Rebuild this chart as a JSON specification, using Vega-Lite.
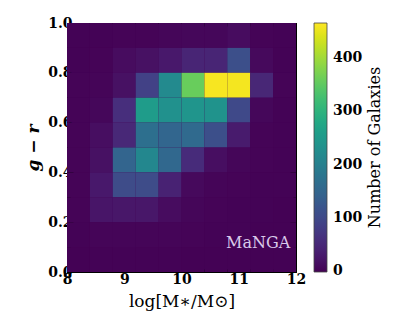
{
  "$schema": "https://vega.github.io/schema/vega-lite/v6.json",
  "autosize": "none",
  "padding": {"left": 67, "top": 23, "right": 103, "bottom": 60},
  "width": 229,
  "height": 249,
  "background": "white",
  "config": {
    "view": {"stroke": "black", "strokeWidth": 1, "fill": "#440154"},
    "axis": {"domainColor": "black", "tickColor": "black", "labelFont": "DejaVu Serif", "labelFontWeight": "bold", "labelFontSize": 14, "labelColor": "black", "titleFont": "DejaVu Serif", "titleColor": "black", "titleFontWeight": "normal", "grid": false},
    "legend": {"labelFont": "DejaVu Serif", "labelFontWeight": "bold", "labelFontSize": 14, "labelColor": "black", "titleFont": "DejaVu Serif", "titleFontWeight": "normal", "titleFontSize": 16, "titleColor": "black"}
  },
  "datasets": {
    "cells": [
      {"m0": 8.0, "m1": 8.4, "c0": 0.9, "c1": 1.0, "n": 1}, {"m0": 8.4, "m1": 8.8, "c0": 0.9, "c1": 1.0, "n": 1}, {"m0": 8.8, "m1": 9.2, "c0": 0.9, "c1": 1.0, "n": 2}, {"m0": 9.2, "m1": 9.6, "c0": 0.9, "c1": 1.0, "n": 3}, {"m0": 9.6, "m1": 10.0, "c0": 0.9, "c1": 1.0, "n": 5}, {"m0": 10.0, "m1": 10.4, "c0": 0.9, "c1": 1.0, "n": 6}, {"m0": 10.4, "m1": 10.8, "c0": 0.9, "c1": 1.0, "n": 6}, {"m0": 10.8, "m1": 11.2, "c0": 0.9, "c1": 1.0, "n": 12}, {"m0": 11.2, "m1": 11.6, "c0": 0.9, "c1": 1.0, "n": 3}, {"m0": 11.6, "m1": 12.0, "c0": 0.9, "c1": 1.0, "n": 1},
      {"m0": 8.0, "m1": 8.4, "c0": 0.8, "c1": 0.9, "n": 1}, {"m0": 8.4, "m1": 8.8, "c0": 0.8, "c1": 0.9, "n": 2}, {"m0": 8.8, "m1": 9.2, "c0": 0.8, "c1": 0.9, "n": 12}, {"m0": 9.2, "m1": 9.6, "c0": 0.8, "c1": 0.9, "n": 18}, {"m0": 9.6, "m1": 10.0, "c0": 0.8, "c1": 0.9, "n": 28}, {"m0": 10.0, "m1": 10.4, "c0": 0.8, "c1": 0.9, "n": 45}, {"m0": 10.4, "m1": 10.8, "c0": 0.8, "c1": 0.9, "n": 45}, {"m0": 10.8, "m1": 11.2, "c0": 0.8, "c1": 0.9, "n": 110}, {"m0": 11.2, "m1": 11.6, "c0": 0.8, "c1": 0.9, "n": 8}, {"m0": 11.6, "m1": 12.0, "c0": 0.8, "c1": 0.9, "n": 1},
      {"m0": 8.0, "m1": 8.4, "c0": 0.7, "c1": 0.8, "n": 2}, {"m0": 8.4, "m1": 8.8, "c0": 0.7, "c1": 0.8, "n": 4}, {"m0": 8.8, "m1": 9.2, "c0": 0.7, "c1": 0.8, "n": 18}, {"m0": 9.2, "m1": 9.6, "c0": 0.7, "c1": 0.8, "n": 88}, {"m0": 9.6, "m1": 10.0, "c0": 0.7, "c1": 0.8, "n": 220}, {"m0": 10.0, "m1": 10.4, "c0": 0.7, "c1": 0.8, "n": 358}, {"m0": 10.4, "m1": 10.8, "c0": 0.7, "c1": 0.8, "n": 460}, {"m0": 10.8, "m1": 11.2, "c0": 0.7, "c1": 0.8, "n": 458}, {"m0": 11.2, "m1": 11.6, "c0": 0.7, "c1": 0.8, "n": 48}, {"m0": 11.6, "m1": 12.0, "c0": 0.7, "c1": 0.8, "n": 2},
      {"m0": 8.0, "m1": 8.4, "c0": 0.6, "c1": 0.7, "n": 2}, {"m0": 8.4, "m1": 8.8, "c0": 0.6, "c1": 0.7, "n": 6}, {"m0": 8.8, "m1": 9.2, "c0": 0.6, "c1": 0.7, "n": 60}, {"m0": 9.2, "m1": 9.6, "c0": 0.6, "c1": 0.7, "n": 255}, {"m0": 9.6, "m1": 10.0, "c0": 0.6, "c1": 0.7, "n": 232}, {"m0": 10.0, "m1": 10.4, "c0": 0.6, "c1": 0.7, "n": 240}, {"m0": 10.4, "m1": 10.8, "c0": 0.6, "c1": 0.7, "n": 236}, {"m0": 10.8, "m1": 11.2, "c0": 0.6, "c1": 0.7, "n": 100}, {"m0": 11.2, "m1": 11.6, "c0": 0.6, "c1": 0.7, "n": 6}, {"m0": 11.6, "m1": 12.0, "c0": 0.6, "c1": 0.7, "n": 1},
      {"m0": 8.0, "m1": 8.4, "c0": 0.5, "c1": 0.6, "n": 3}, {"m0": 8.4, "m1": 8.8, "c0": 0.5, "c1": 0.6, "n": 14}, {"m0": 8.8, "m1": 9.2, "c0": 0.5, "c1": 0.6, "n": 50}, {"m0": 9.2, "m1": 9.6, "c0": 0.5, "c1": 0.6, "n": 168}, {"m0": 9.6, "m1": 10.0, "c0": 0.5, "c1": 0.6, "n": 150}, {"m0": 10.0, "m1": 10.4, "c0": 0.5, "c1": 0.6, "n": 158}, {"m0": 10.4, "m1": 10.8, "c0": 0.5, "c1": 0.6, "n": 110}, {"m0": 10.8, "m1": 11.2, "c0": 0.5, "c1": 0.6, "n": 32}, {"m0": 11.2, "m1": 11.6, "c0": 0.5, "c1": 0.6, "n": 3}, {"m0": 11.6, "m1": 12.0, "c0": 0.5, "c1": 0.6, "n": 1},
      {"m0": 8.0, "m1": 8.4, "c0": 0.4, "c1": 0.5, "n": 3}, {"m0": 8.4, "m1": 8.8, "c0": 0.4, "c1": 0.5, "n": 18}, {"m0": 8.8, "m1": 9.2, "c0": 0.4, "c1": 0.5, "n": 148}, {"m0": 9.2, "m1": 9.6, "c0": 0.4, "c1": 0.5, "n": 215}, {"m0": 9.6, "m1": 10.0, "c0": 0.4, "c1": 0.5, "n": 155}, {"m0": 10.0, "m1": 10.4, "c0": 0.4, "c1": 0.5, "n": 55}, {"m0": 10.4, "m1": 10.8, "c0": 0.4, "c1": 0.5, "n": 14}, {"m0": 10.8, "m1": 11.2, "c0": 0.4, "c1": 0.5, "n": 5}, {"m0": 11.2, "m1": 11.6, "c0": 0.4, "c1": 0.5, "n": 2}, {"m0": 11.6, "m1": 12.0, "c0": 0.4, "c1": 0.5, "n": 1},
      {"m0": 8.0, "m1": 8.4, "c0": 0.3, "c1": 0.4, "n": 2}, {"m0": 8.4, "m1": 8.8, "c0": 0.3, "c1": 0.4, "n": 28}, {"m0": 8.8, "m1": 9.2, "c0": 0.3, "c1": 0.4, "n": 105}, {"m0": 9.2, "m1": 9.6, "c0": 0.3, "c1": 0.4, "n": 105}, {"m0": 9.6, "m1": 10.0, "c0": 0.3, "c1": 0.4, "n": 42}, {"m0": 10.0, "m1": 10.4, "c0": 0.3, "c1": 0.4, "n": 9}, {"m0": 10.4, "m1": 10.8, "c0": 0.3, "c1": 0.4, "n": 4}, {"m0": 10.8, "m1": 11.2, "c0": 0.3, "c1": 0.4, "n": 2}, {"m0": 11.2, "m1": 11.6, "c0": 0.3, "c1": 0.4, "n": 1}, {"m0": 11.6, "m1": 12.0, "c0": 0.3, "c1": 0.4, "n": 1},
      {"m0": 8.0, "m1": 8.4, "c0": 0.2, "c1": 0.3, "n": 2}, {"m0": 8.4, "m1": 8.8, "c0": 0.2, "c1": 0.3, "n": 24}, {"m0": 8.8, "m1": 9.2, "c0": 0.2, "c1": 0.3, "n": 26}, {"m0": 9.2, "m1": 9.6, "c0": 0.2, "c1": 0.3, "n": 26}, {"m0": 9.6, "m1": 10.0, "c0": 0.2, "c1": 0.3, "n": 12}, {"m0": 10.0, "m1": 10.4, "c0": 0.2, "c1": 0.3, "n": 5}, {"m0": 10.4, "m1": 10.8, "c0": 0.2, "c1": 0.3, "n": 2}, {"m0": 10.8, "m1": 11.2, "c0": 0.2, "c1": 0.3, "n": 1}, {"m0": 11.2, "m1": 11.6, "c0": 0.2, "c1": 0.3, "n": 1}, {"m0": 11.6, "m1": 12.0, "c0": 0.2, "c1": 0.3, "n": 0},
      {"m0": 8.0, "m1": 8.4, "c0": 0.1, "c1": 0.2, "n": 1}, {"m0": 8.4, "m1": 8.8, "c0": 0.1, "c1": 0.2, "n": 4}, {"m0": 8.8, "m1": 9.2, "c0": 0.1, "c1": 0.2, "n": 4}, {"m0": 9.2, "m1": 9.6, "c0": 0.1, "c1": 0.2, "n": 4}, {"m0": 9.6, "m1": 10.0, "c0": 0.1, "c1": 0.2, "n": 4}, {"m0": 10.0, "m1": 10.4, "c0": 0.1, "c1": 0.2, "n": 2}, {"m0": 10.4, "m1": 10.8, "c0": 0.1, "c1": 0.2, "n": 1}, {"m0": 10.8, "m1": 11.2, "c0": 0.1, "c1": 0.2, "n": 1}, {"m0": 11.2, "m1": 11.6, "c0": 0.1, "c1": 0.2, "n": 0}, {"m0": 11.6, "m1": 12.0, "c0": 0.1, "c1": 0.2, "n": 0},
      {"m0": 8.0, "m1": 8.4, "c0": 0.0, "c1": 0.1, "n": 0}, {"m0": 8.4, "m1": 8.8, "c0": 0.0, "c1": 0.1, "n": 1}, {"m0": 8.8, "m1": 9.2, "c0": 0.0, "c1": 0.1, "n": 1}, {"m0": 9.2, "m1": 9.6, "c0": 0.0, "c1": 0.1, "n": 1}, {"m0": 9.6, "m1": 10.0, "c0": 0.0, "c1": 0.1, "n": 1}, {"m0": 10.0, "m1": 10.4, "c0": 0.0, "c1": 0.1, "n": 0}, {"m0": 10.4, "m1": 10.8, "c0": 0.0, "c1": 0.1, "n": 0}, {"m0": 10.8, "m1": 11.2, "c0": 0.0, "c1": 0.1, "n": 0}, {"m0": 11.2, "m1": 11.6, "c0": 0.0, "c1": 0.1, "n": 0}, {"m0": 11.6, "m1": 12.0, "c0": 0.0, "c1": 0.1, "n": 0}
    ],
    "label": [{"m0": 11.9, "c0": 0.096, "text": "MaNGA"}],
    "cbtitle": [{"m0": 13.38, "c0": 0.5, "text": "Number of Galaxies"}]
  },
  "layer": [
    {
      "data": {"name": "cells"},
      "mark": {"type": "rect", "strokeWidth": 0, "opacity": 1},
      "encoding": {
        "x": {"field": "m0", "type": "quantitative", "scale": {"domain": [8, 12], "nice": false, "zero": false},
              "axis": {"orient": "bottom", "grid": false, "values": [8, 9, 10, 11, 12], "tickSize": -6, "labelPadding": 6, "title": "log[M∗/M⊙]", "titleFontSize": 17, "titlePadding": 7, "labelFlush": false}},
        "x2": {"field": "m1"},
        "y": {"field": "c0", "type": "quantitative", "scale": {"domain": [0, 1], "nice": false, "zero": false},
              "axis": {"orient": "left", "grid": false, "values": [0, 0.2, 0.4, 0.6, 0.8, 1.0], "format": ".1f", "tickSize": -6, "labelPadding": 1, "title": "g − r", "titleFontSize": 17, "titleFontStyle": "italic", "titleFontWeight": "bold", "titlePadding": 5, "labelFlush": false}},
        "y2": {"field": "c1"},
        "color": {"field": "n", "type": "quantitative", "scale": {"scheme": "viridis", "domain": [-1, 465], "nice": false},
                  "legend": {"type": "gradient", "title": null, "values": [0, 100, 200, 300, 400], "gradientLength": 249, "gradientThickness": 13, "gradientStrokeColor": "#444", "gradientStrokeWidth": 0.8, "offset": 17, "labelOffset": 6, "labelOverlap": false}}
      }
    },
    {
      "data": {"name": "cells"},
      "mark": {"type": "rect", "opacity": 0},
      "encoding": {
        "x": {"field": "m0", "type": "quantitative", "axis": {"orient": "bottom", "grid": false, "values": [8.2, 8.4, 8.6, 8.8, 9.2, 9.4, 9.6, 9.8, 10.2, 10.4, 10.6, 10.8, 11.2, 11.4, 11.6, 11.8], "tickSize": -3, "labels": false, "domain": false, "title": null}},
        "y": {"field": "c0", "type": "quantitative", "axis": {"orient": "left", "grid": false, "values": [0.05, 0.1, 0.15, 0.25, 0.3, 0.35, 0.45, 0.5, 0.55, 0.65, 0.7, 0.75, 0.85, 0.9, 0.95], "tickSize": -3, "labels": false, "domain": false, "title": null}}
      }
    },
    {
      "data": {"name": "cells"},
      "mark": {"type": "rect", "opacity": 0},
      "encoding": {
        "x": {"field": "m0", "type": "quantitative", "axis": {"orient": "top", "grid": false, "values": [8, 9, 10, 11, 12], "tickSize": -6, "labels": false, "title": null}},
        "y": {"field": "c0", "type": "quantitative", "axis": {"orient": "right", "grid": false, "values": [0, 0.2, 0.4, 0.6, 0.8, 1.0], "tickSize": -6, "labels": false, "title": null}}
      }
    },
    {
      "data": {"name": "cells"},
      "mark": {"type": "rect", "opacity": 0},
      "encoding": {
        "x": {"field": "m0", "type": "quantitative", "axis": {"orient": "top", "grid": false, "values": [8.2, 8.4, 8.6, 8.8, 9.2, 9.4, 9.6, 9.8, 10.2, 10.4, 10.6, 10.8, 11.2, 11.4, 11.6, 11.8], "tickSize": -3, "labels": false, "domain": false, "title": null}},
        "y": {"field": "c0", "type": "quantitative", "axis": {"orient": "right", "grid": false, "values": [0.05, 0.1, 0.15, 0.25, 0.3, 0.35, 0.45, 0.5, 0.55, 0.65, 0.7, 0.75, 0.85, 0.9, 0.95], "tickSize": -3, "labels": false, "domain": false, "title": null}}
      }
    },
    {
      "data": {"name": "label"},
      "mark": {"type": "text", "align": "right", "baseline": "alphabetic", "font": "DejaVu Serif", "fontSize": 16, "color": "#d9c9ea"},
      "encoding": {
        "x": {"field": "m0", "type": "quantitative", "axis": null},
        "y": {"field": "c0", "type": "quantitative", "axis": null},
        "text": {"field": "text"}
      }
    },
    {
      "data": {"name": "cbtitle"},
      "mark": {"type": "text", "align": "center", "baseline": "middle", "angle": 270, "font": "DejaVu Serif", "fontSize": 16, "color": "black"},
      "encoding": {
        "x": {"field": "m0", "type": "quantitative", "axis": null},
        "y": {"field": "c0", "type": "quantitative", "axis": null},
        "text": {"field": "text"}
      }
    }
  ],
  "resolve": {"axis": {"x": "independent", "y": "independent"}}
}
